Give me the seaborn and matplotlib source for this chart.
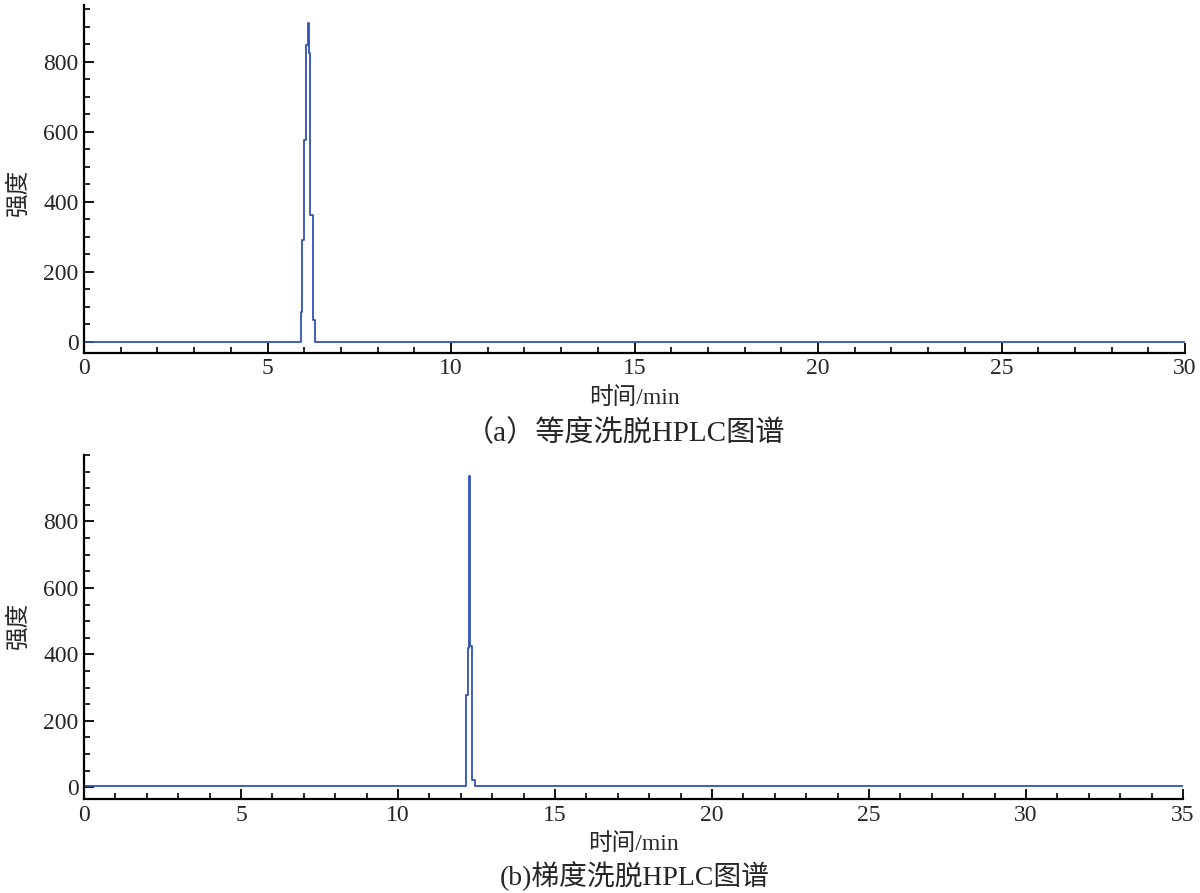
import matplotlib
matplotlib.use("Agg")
import matplotlib.pyplot as plt
import pandas as pd
import seaborn as sns
from matplotlib.ticker import MultipleLocator

# (a) isocratic elution: retention time (min) and detector intensity
iso_time = [0.0, 5.87, 5.91, 5.95, 6.00, 6.04, 6.09, 6.13, 6.17, 6.23, 6.29, 30.0]
iso_signal = [0, 0, 85, 291, 577, 849, 912, 825, 363, 63, 0, 0]

# (b) gradient elution
grad_time = [0.0, 12.17, 12.22, 12.25, 12.30, 12.36, 12.45, 35.0]
grad_signal = [5, 278, 419, 938, 424, 23, 5, 5]

line_color = "#3152b6"
fig_texts = {
    "xlabel": "时间/min",
    "ylabel": "强度",
    "cap_a": "（a）等度洗脱HPLC图谱",
    "cap_b": "(b)梯度洗脱HPLC图谱",
}

sns.set_style("ticks")
plt.rcParams["font.family"] = ["Liberation Serif", "Noto Sans CJK SC", "DejaVu Sans"]
plt.rcParams["axes.unicode_minus"] = False

fig = plt.figure(figsize=(12, 8.93), dpi=100)
ax_a = fig.add_axes([0.07, 0.605, 0.9175, 0.3894])
ax_b = fig.add_axes([0.07, 0.1053, 0.9158, 0.3852])

panels = [
    (ax_a, iso_time, iso_signal, (0, 30), (-31, 962), 192),
    (ax_b, grad_time, grad_signal, (0, 35), (-35, 1000), 625),
]

for ax, t, s, xlim, ylim, ylab_y in panels:
    df = pd.DataFrame({"time": t, "signal": s})
    sns.lineplot(data=df, x="time", y="signal", ax=ax, estimator=None,
                 color=line_color, linewidth=1.3, drawstyle="steps-post")
    ax.set_xlim(*xlim)
    ax.set_ylim(*ylim)
    ax.xaxis.set_major_locator(MultipleLocator(5))
    ax.xaxis.set_minor_locator(MultipleLocator(1))
    ax.yaxis.set_major_locator(MultipleLocator(200))
    ax.yaxis.set_minor_locator(MultipleLocator(50))
    ax.set_yticks([0, 200, 400, 600, 800])
    ax.tick_params(which="major", direction="in", length=7, width=1.3,
                   labelsize=17, pad=4, color="black")
    ax.tick_params(which="minor", direction="in", length=4, width=1.2, color="black")
    for side in ("top", "right"):
        ax.spines[side].set_visible(False)
    for side in ("left", "bottom"):
        ax.spines[side].set_linewidth(1.6)
        ax.spines[side].set_color("black")
    ax.set_xlabel(fig_texts["xlabel"], fontsize=17)
    ax.xaxis.set_label_coords(0.5, -0.1)
    ax.set_ylabel("")
    fig.text(18 / 1200, 1 - ylab_y / 893, fig_texts["ylabel"], rotation=90,
             ha="center", va="center", fontsize=17)

fig.text(625 / 1200, 1 - 432 / 893, fig_texts["cap_a"], ha="center", va="center", fontsize=21)
fig.text(635 / 1200, 1 - 876 / 893, fig_texts["cap_b"], ha="center", va="center", fontsize=20)

fig.savefig("out.png", dpi=100, facecolor="white")
